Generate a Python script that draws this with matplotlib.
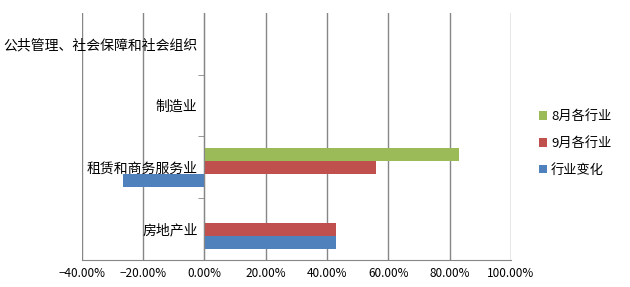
import numpy as np
import matplotlib
matplotlib.use("Agg")
import matplotlib.pyplot as plt
from matplotlib.ticker import PercentFormatter, FixedLocator

plt.rcParams['font.family'] = ['Noto Sans CJK SC', 'DejaVu Sans']

categories = ['房地产业', '租赁和商务服务业', '制造业', '公共管理、社会保障和社会组织']
change = [0.43, -0.267, 0.0, 0.0]      # 行业变化
sep = [0.43, 0.561, 0.0, 0.0]          # 9月各行业
aug = [0.0, 0.829, 0.0, 0.0]           # 8月各行业
series_names = ['行业变化', '9月各行业', '8月各行业']
colors = ['#4F81BD', '#C0504D', '#9BBB59']

fig = plt.figure(figsize=(6.3, 2.87), dpi=100)
ax = fig.add_axes([0.130, 0.094, 0.681, 0.861])

y = np.arange(len(categories))
h = 0.21
bars = []
for i, (vals, name, c) in enumerate(zip([change, sep, aug], series_names, colors)):
    b = ax.barh(y + (i - 1) * h, vals, height=h, color=c, label=name, zorder=3)
    bars.append(b)

ax.set_xlim(-0.4, 1.0)
ax.set_ylim(-0.5, len(categories) - 0.5)
ax.set_xticks(np.arange(-0.4, 1.01, 0.2))
ax.xaxis.set_major_formatter(PercentFormatter(1.0, decimals=2))
ax.grid(axis='x', color='#868686', linewidth=1, zorder=0)
ax.tick_params(axis='x', length=0, labelsize=8.5, pad=5, colors='#000000')

ax.set_yticks(y)
ax.set_yticklabels(categories, fontsize=9)
ax.yaxis.set_minor_locator(FixedLocator(np.arange(0.5, len(categories) - 0.5, 1)))
ax.tick_params(axis='y', which='major', length=0, pad=5)
ax.tick_params(axis='y', which='minor', length=4, color='#868686', direction='out')

for s in ['top', 'right']:
    ax.spines[s].set_visible(False)
ax.spines['left'].set_position(('data', 0))
ax.spines['left'].set_color('#868686')
ax.spines['bottom'].set_color('#868686')
ax.spines['left'].set_zorder(4)

handles = bars[::-1]
labels = series_names[::-1]
fig.legend(handles, labels, loc='center left', bbox_to_anchor=(0.837, 0.50),
           frameon=False, fontsize=9.5, handlelength=0.6, handleheight=0.6,
           handletextpad=0.3, labelspacing=1.05)

fig.savefig('out.png', dpi=100)
